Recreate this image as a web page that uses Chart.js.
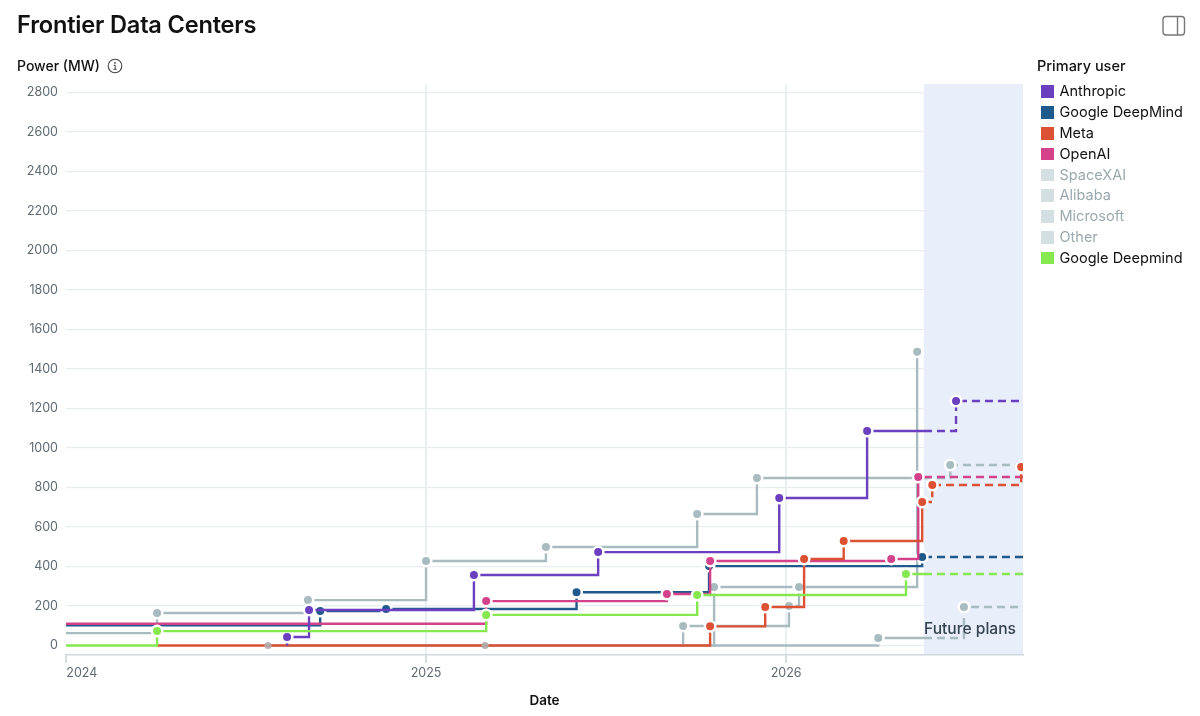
<!DOCTYPE html>
<html>
<head>
<meta charset="utf-8">
<title>Frontier Data Centers</title>
<script src="https://cdn.jsdelivr.net/npm/chart.js@4"></script>
<style>
  html, body { margin: 0; padding: 0; background: #fff; overflow: hidden; font-family: Inter, "Noto Sans", sans-serif; }
  #wrap { position: relative; width: 1200px; height: 716px; }
  #myChart { position: absolute; left: 0; top: 0; }
  .abs { position: absolute; white-space: nowrap; }
  #title { left: 17px; top: 10px; font-size: 23.6px; line-height: 30px; font-weight: 600; color: #111; letter-spacing: -0.2px; }
  #yTitle { left: 17px; top: 57px; font-size: 14px; line-height: 18px; font-weight: 500; color: #111; }
  #legendTitle { left: 1037px; top: 57px; font-size: 14.5px; line-height: 18px; font-weight: 500; color: #111; }
  .row { position: absolute; left: 1041px; height: 20px; line-height: 20px; font-size: 14.5px; color: #111; white-space: nowrap; }
  .row i { position: absolute; left: 0; top: 4px; width: 12.5px; height: 12.5px; }
  .row span { position: absolute; left: 18.5px; top: 0; }
  .row.off { color: #9aa9ae; }
</style>
</head>
<body>
<div id="wrap">
  <canvas id="myChart" width="1200" height="716"></canvas>
  <div id="title" class="abs">Frontier Data Centers</div>
  <div id="yTitle" class="abs">Power (MW)</div>
  <svg class="abs" style="left:107px;top:58px" width="16" height="16" viewBox="0 0 16 16">
    <circle cx="8" cy="8" r="6.8" fill="none" stroke="#444" stroke-width="1.1"/>
    <circle cx="8" cy="4.9" r="0.9" fill="#444"/>
    <path d="M6.6 7.2H8.2V11.2M6.5 11.3H9.7" fill="none" stroke="#444" stroke-width="1"/>
  </svg>
  <svg class="abs" style="left:1161px;top:14px" width="26" height="24" viewBox="0 0 26 24">
    <rect x="2" y="2.5" width="21.5" height="18.5" rx="3" fill="none" stroke="#777" stroke-width="1.4"/>
    <path d="M16.5 2.5V21" stroke="#777" stroke-width="1.4"/>
  </svg>
  <div id="legendTitle" class="abs">Primary user</div>
  <div id="legend"></div>
</div>
<script>
// dates are decimal years, power is MW
var legendNames = ['Anthropic', 'Google DeepMind', 'Meta', 'OpenAI', 'SpaceXAI', 'Alibaba', 'Microsoft', 'Other', 'Google Deepmind'];
var yearTicks = [2024, 2025, 2026];
var futureStart = 2026.383;
var lastDate = 2026.658;

var anthropicDates = [2024.614, 2024.614, 2024.675, 2025.133, 2025.478, 2025.981, 2026.225, 2026.472];
var anthropicPower = [0, 43, 180, 357, 473, 747, 1086, 1238];

var googleDeepMindDates = [2024, 2024.706, 2024.889, 2025.418, 2025.786, 2026.378];
var googleDeepMindPower = [103, 175, 185, 270, 402, 448];

var metaDates = [2024.253, 2025.789, 2025.942, 2026.05, 2026.16, 2026.378, 2026.406, 2026.653];
var metaPower = [0, 97, 195, 438, 529, 727, 813, 904];

var openAiDates = [2024, 2025.167, 2025.669, 2025.789, 2026.292, 2026.367];
var openAiPower = [110, 225, 261, 428, 438, 853];

var spaceXaiDates = [2024, 2024.253, 2024.672, 2025, 2025.333, 2025.753, 2025.919, 2026.456];
var spaceXaiPower = [63, 165, 230, 428, 499, 666, 848, 914];

var alibabaDates = [2024.561, 2025.714, 2026.008, 2026.036, 2026.364];
var alibabaPower = [0, 99, 200, 296, 1487];

var microsoftDates = [2025.164, 2025.8, 2026.036];
var microsoftPower = [0, 296, 296];

var otherDates = [2025.8, 2026.256, 2026.494];
var otherPower = [0, 38, 195];

var googleDeepmindDates = [2024, 2024.253, 2025.167, 2025.753, 2026.333];
var googleDeepmindPower = [0, 73, 155, 256, 362];

var zeroStartDates = [2024.561, 2025.164];
var zeroStartPower = [0, 0];

var purple = '#6a3fc0', blue = '#205a8c', red = '#dc5034', pink = '#d4428c', green = '#86e84f', gray = '#a8bcc0';

// turn a series into chart points, the first vertex is only a line start
function steps(dates, power, runsOn) {
    var pts = [];
    dates.forEach(function(d, i) {
        if (i > 0 && dates[i - 1] < futureStart && d > futureStart) {
            pts.push({ x: futureStart, y: power[i - 1], mark: false });
        }
        pts.push({ x: d, y: power[i], mark: i > 0 });
    });
    if (runsOn) {
        var last = dates[dates.length - 1];
        if (last < futureStart) pts.push({ x: futureStart, y: power[power.length - 1], mark: false });
        pts.push({ x: lastDate, y: power[power.length - 1], mark: false });
    }
    return pts;
}

function stepSet(label, dates, power, color, runsOn) {
    return {
        label: label,
        data: steps(dates, power, runsOn),
        stepped: 'before',
        borderColor: color,
        backgroundColor: color,
        borderWidth: 2.4,
        pointBackgroundColor: color,
        pointBorderColor: '#fff',
        pointBorderWidth: 2.5,
        pointRadius: function(ctx) { return ctx.raw && ctx.raw.mark ? 5.25 : 0; },
        segment: {
            borderDash: function(ctx) { return ctx.p0.parsed.x >= futureStart ? [8, 5] : undefined; }
        }
    };
}

// legend on the right
var legendColors = [purple, blue, red, pink, '#d3dfe0', '#d3dfe0', '#d3dfe0', '#d3dfe0', green];
var legendBox = document.getElementById('legend');
legendNames.forEach(function(name, i) {
    var row = document.createElement('div');
    row.className = 'row' + (legendColors[i] === '#d3dfe0' ? ' off' : '');
    row.style.top = (81.4 + i * 20.8) + 'px';
    row.innerHTML = '<i style="background:' + legendColors[i] + '"></i><span>' + name + '</span>';
    legendBox.appendChild(row);
});

// blue band and its label for planned sites
var futureBand = {
    id: 'futureBand',
    beforeDatasetsDraw: function(chart) {
        var a = chart.chartArea, x0 = chart.scales.x.getPixelForValue(futureStart);
        chart.ctx.save();
        chart.ctx.fillStyle = '#e8eefa';
        chart.ctx.fillRect(x0, a.top, a.right - x0, a.bottom - a.top - 1);
        chart.ctx.restore();
    },
    afterDatasetsDraw: function(chart) {
        var ctx = chart.ctx;
        ctx.save();
        ctx.fillStyle = '#33424f';
        ctx.font = '500 15.6px Inter';
        ctx.textBaseline = 'middle';
        ctx.fillText('Future plans', 924, 629.5);
        ctx.restore();
    }
};

var ctx = document.getElementById('myChart').getContext('2d');
var myChart = new Chart(ctx, {
    type: 'line',
    plugins: [futureBand],
    data: {
        datasets: [
            {
                label: 'zero starts',
                data: zeroStartDates.map(function(d, i) { return { x: d, y: zeroStartPower[i] }; }),
                showLine: false,
                pointRadius: 3.5,
                pointBorderWidth: 0,
                pointBackgroundColor: 'rgba(178,172,170,0.92)'
            },
            stepSet('Google Deepmind', googleDeepmindDates, googleDeepmindPower, green, true),
            stepSet('Anthropic', anthropicDates, anthropicPower, purple, true),
            stepSet('Meta', metaDates, metaPower, red, true),
            stepSet('OpenAI', openAiDates, openAiPower, pink, true),
            stepSet('Google DeepMind', googleDeepMindDates, googleDeepMindPower, blue, true),
            stepSet('SpaceXAI', spaceXaiDates, spaceXaiPower, gray, true),
            stepSet('Alibaba', alibabaDates, alibabaPower, gray, false),
            stepSet('Microsoft', microsoftDates, microsoftPower, gray, false),
            stepSet('Other', otherDates, otherPower, gray, true)
        ]
    },
    options: {
        responsive: false,
        animation: false,
        layout: { padding: { left: 0, right: 177, top: 84, bottom: 0 } },
        plugins: { legend: { display: false }, tooltip: { enabled: false } },
        scales: {
            x: {
                type: 'linear',
                min: 2024,
                max: lastDate,
                afterBuildTicks: function(scale) {
                    scale.ticks = yearTicks.map(function(y) { return { value: y }; });
                },
                afterFit: function(scale) { scale.height = 61; },
                grid: {
                    color: function(c) { return c.tick && c.tick.value === 2024 ? 'transparent' : '#e8f1f2'; },
                    lineWidth: 2,
                    tickLength: 8,
                    tickColor: '#d3dcdf'
                },
                border: { color: '#cfd8dc', width: 1.5 },
                ticks: {
                    maxRotation: 0,
                    autoSkip: false,
                    padding: 3,
                    color: '#5f6b73',
                    font: { family: 'Inter', size: 12.5 },
                    callback: function(v) { return v === 2024 ? '         2024' : String(v); }
                },
                title: {
                    display: true,
                    text: 'Date',
                    color: '#111',
                    font: { family: 'Inter', size: 13.5, weight: '600' },
                    padding: { top: 12, bottom: 7 }
                }
            },
            y: {
                min: -48,
                max: 2843,
                afterFit: function(scale) { scale.width = 66; },
                grid: { color: '#e8eeef', lineWidth: 1.2, drawTicks: false },
                border: { display: false },
                ticks: {
                    stepSize: 200,
                    includeBounds: false,
                    padding: 8,
                    color: '#5f6b73',
                    font: { family: 'Inter', size: 12.5 },
                    callback: function(v) { return String(v); }
                }
            }
        }
    }
});
</script>
</body>
</html>
